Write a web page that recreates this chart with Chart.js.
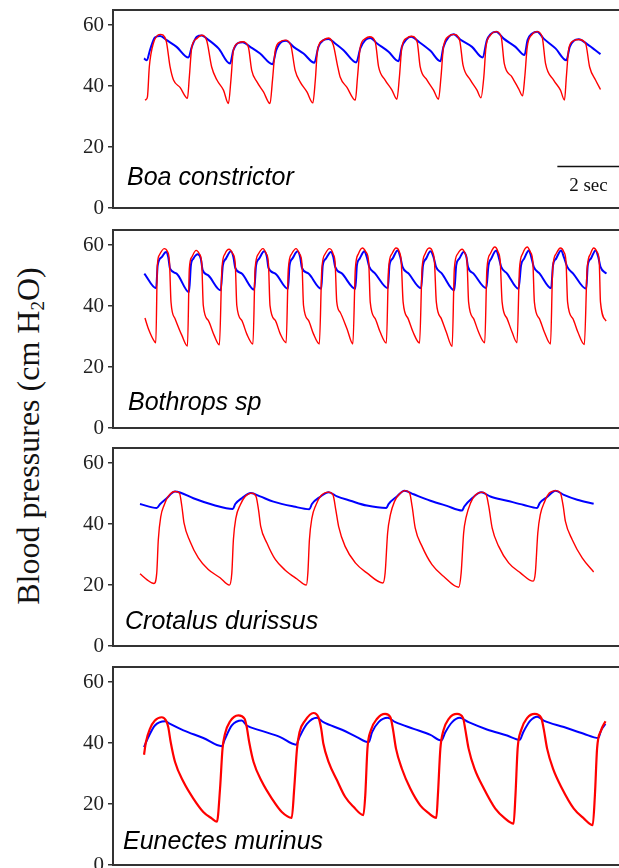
<!DOCTYPE html>
<html>
<head>
<meta charset="utf-8">
<title>Blood pressures</title>
<script src="https://cdn.jsdelivr.net/npm/chart.js@4.4.0/dist/chart.umd.min.js"></script>
<style>
  html, body { margin: 0; padding: 0; background: #fff; overflow: hidden; width: 619px; height: 868px; }
  .panel { position: absolute; left: 0; }
  #ytitle {
    position: absolute; left: -172px; top: 420px; width: 400px; height: 32px;
    line-height: 32px; text-align: center; white-space: nowrap;
    font-family: "Liberation Serif", "Times New Roman", serif; font-size: 32px; color: #111;
    transform: rotate(-90deg); transform-origin: 50% 50%;
  }
  #ytitle sub { font-size: 0.6em; line-height: 0; vertical-align: -0.25em; }
</style>
</head>
<body>
<div id="ytitle">Blood pressures (cm H<sub>2</sub>O)</div>
<canvas id="boa" class="panel" width="625" height="226" style="top:-4px"></canvas>
<canvas id="bothrops" class="panel" width="625" height="226" style="top:216px"></canvas>
<canvas id="crotalus" class="panel" width="625" height="226" style="top:434px"></canvas>
<canvas id="eunectes" class="panel" width="625" height="226" style="top:653px"></canvas>
<script>
// ===================== DATA (time in s, pressure in cm H2O) =====================
const yTicks = [0, 20, 40, 60];
const species = ["Boa constrictor", "Bothrops sp", "Crotalus durissus", "Eunectes murinus"];
const scaleBarSec = 2;

const boaRed = [[1.03,35.4],[1.06,35.6],[1.11,36.5],[1.17,46.3],[1.30,54],[1.52,57],[1.71,55],[1.84,46.3],[1.95,42],[2.16,39.6],[2.40,36],
  [2.46,43],[2.54,52.9],[2.70,55.6],[2.86,56.7],[3.02,55],[3.18,46.3],[3.35,42],[3.56,38.7],[3.72,34.3],
  [3.80,42],[3.88,51.8],[4.04,54.2],[4.18,54.6],[4.36,52.9],[4.47,45.2],[4.64,41.4],[4.85,38.1],[5.06,34.3],
  [5.14,42],[5.23,51.8],[5.39,54.6],[5.55,55.1],[5.73,53.4],[5.87,45.2],[6.03,41.4],[6.25,38.1],[6.44,34.5],
  [6.52,42],[6.59,51.8],[6.78,55.1],[6.95,55.8],[7.10,53.5],[7.23,47],[7.32,43],[7.54,39.6],[7.81,35.4],
  [7.88,43],[7.97,52.9],[8.13,55.6],[8.27,56.2],[8.45,54.6],[8.56,46.3],[8.77,42],[8.99,38.7],[9.15,35.7],
  [9.23,43],[9.31,52.9],[9.47,55.8],[9.61,56.4],[9.80,54.6],[9.90,46.3],[10.12,42],[10.33,38.7],[10.49,35.7],
  [10.57,43],[10.65,52.9],[10.82,56.4],[10.98,57],[11.17,55.1],[11.28,46.9],[11.52,42],[11.73,38.7],[11.86,36.2],
  [11.95,43],[12.02,52.9],[12.16,56.7],[12.35,57.9],[12.51,56.2],[12.61,47.4],[12.86,43],[13.07,39.2],[13.20,36.8],
  [13.27,43],[13.35,52.9],[13.51,57],[13.67,57.9],[13.83,56.2],[13.94,47.4],[14.20,42],[14.42,38.7],[14.55,35.4],
  [14.61,43],[14.69,52.4],[14.85,54.9],[15.01,55.3],[15.23,54],[15.36,46.3],[15.55,42],[15.71,38.9]];
const boaBlue = [[1.00,49.1],[1.09,48.5],[1.19,51.8],[1.35,56],[1.52,56.5],[1.73,55.1],[2.05,52.9],[2.43,49.4],
  [2.54,52.9],[2.70,56.2],[2.86,56.6],[3.02,55.6],[3.40,52.4],[3.77,47.4],
  [3.88,51.8],[4.04,54.2],[4.18,54.4],[4.42,52.9],[4.74,50.7],[5.14,47.2],
  [5.26,51.8],[5.44,54.6],[5.58,54.9],[5.82,52.9],[6.14,50.7],[6.49,47.7],
  [6.62,52.9],[6.78,55.1],[6.95,55.5],[7.16,54],[7.43,51.8],[7.84,47.8],
  [7.97,52.4],[8.13,55.1],[8.29,55.8],[8.51,54],[8.88,51.3],[9.20,48.2],
  [9.31,52.9],[9.45,55.3],[9.61,56.2],[9.85,54.6],[10.23,51.6],[10.55,48.2],
  [10.65,52.9],[10.82,56.2],[10.98,57],[11.19,55.3],[11.57,52.9],[11.91,49.4],
  [12.05,55.1],[12.16,57],[12.35,57.9],[12.59,55.6],[12.97,52.9],[13.26,50.2],
  [13.36,55.1],[13.51,57.3],[13.67,57.9],[13.88,55.6],[14.26,52.4],[14.61,48.5],
  [14.72,52.9],[14.85,54.9],[15.01,55.4],[15.28,53.8],[15.71,50.5]];

const bothropsRed = [[1.03,36.1],[1.14,32.6],[1.35,28.2],[1.38,28],
  [1.43,53.4],[1.49,56.7],[1.65,58.9],[1.75,58],[1.82,54.5],[1.87,41.3],[2.00,35.9],[2.22,30.4],[2.40,26.9],
  [2.46,52.3],[2.54,56.1],[2.68,58.3],[2.78,57.2],[2.86,53.9],[2.91,40.2],[3.07,35.3],[3.26,30.4],[3.43,27.3],
  [3.51,52.3],[3.61,57.2],[3.74,58.7],[3.86,57.2],[3.94,53.9],[3.99,40.2],[4.15,35.3],[4.31,30.9],[4.51,27.6],
  [4.58,52.3],[4.69,57.2],[4.83,58.9],[4.94,57.2],[5.01,53.9],[5.06,40.2],[5.23,35.3],[5.39,30.9],[5.58,28],
  [5.65,52.3],[5.76,57.2],[5.90,58.9],[6.01,57.2],[6.09,53.9],[6.14,40.2],[6.30,35.3],[6.46,30.9],[6.65,27.6],
  [6.73,52.3],[6.84,57.2],[6.98,58.9],[7.10,57],[7.16,53.9],[7.21,41.5],[7.32,38],[7.54,32.6],[7.73,27.6],
  [7.81,52.3],[7.91,57.2],[8.04,59.1],[8.15,57.8],[8.24,54.5],[8.29,41.3],[8.45,35.9],[8.61,31.5],[8.81,27.9],
  [8.88,52.3],[8.99,57.2],[9.12,59.1],[9.23,57.8],[9.29,54.5],[9.35,41.3],[9.51,35.9],[9.67,31.5],[9.88,27.9],
  [9.96,52.3],[10.06,57.2],[10.19,59.1],[10.30,57.8],[10.36,54.5],[10.42,41.3],[10.58,35.9],[10.74,31.5],[10.93,26.8],
  [11.00,52.3],[11.11,57.2],[11.25,58.7],[11.35,57.2],[11.41,54.5],[11.46,41.3],[11.62,35.9],[11.78,31.5],[11.98,28],
  [12.05,52.3],[12.16,57.2],[12.30,59.4],[12.41,57.8],[12.48,54.5],[12.54,41.3],[12.70,35.9],[12.86,31.5],[13.02,28],
  [13.10,52.3],[13.20,57.2],[13.35,59.4],[13.45,57.8],[13.53,54.5],[13.58,41.3],[13.74,35.9],[13.90,31.5],[14.10,27.6],
  [14.17,52.3],[14.28,57.2],[14.42,59.1],[14.53,57.8],[14.60,54.5],[14.65,41.3],[14.82,35.9],[14.98,31.5],[15.19,27.4],
  [15.28,52.3],[15.39,57.2],[15.49,59.1],[15.60,57.8],[15.67,54.5],[15.71,41.3],[15.89,35.1]];
const bothropsBlue = [[1.01,50.7],[1.39,45.9],[1.44,53.4],[1.57,56.1],[1.71,57.8],[1.78,56.1],[1.84,52.3],[2.05,50.7],[2.45,44.6],
  [2.51,53.4],[2.59,55.6],[2.73,57],[2.83,55.6],[2.89,51.8],[3.07,50.1],[3.47,45.2],
  [3.54,53.4],[3.64,55.6],[3.80,58],[3.88,56.1],[3.94,52.6],[4.15,50.7],[4.55,45.4],
  [4.61,53.4],[4.71,55.6],[4.87,58],[4.96,56.1],[5.01,52.6],[5.23,50.7],[5.64,45.7],
  [5.69,53.4],[5.78,55.6],[5.95,58],[6.03,56.1],[6.09,52.6],[6.30,50.7],[6.71,45.7],
  [6.76,53.4],[6.86,55.6],[7.02,57.8],[7.10,56.1],[7.16,52.9],[7.38,50.7],[7.81,45.7],
  [7.86,53.4],[7.95,55.6],[8.10,58],[8.18,56.1],[8.26,52.9],[8.45,50.7],[8.86,45.9],
  [8.91,53.4],[9.01,55.6],[9.17,58.3],[9.26,56.1],[9.33,52.9],[9.53,50.7],[9.93,45.9],
  [9.99,53.4],[10.09,55.6],[10.23,58],[10.33,56.1],[10.41,52.9],[10.60,50.7],[11.00,45.2],
  [11.06,53.4],[11.16,55.6],[11.30,57.8],[11.39,56.1],[11.44,52.9],[11.62,50.7],[12.03,45.9],
  [12.10,53.4],[12.19,55.6],[12.35,58.3],[12.43,56.1],[12.51,52.9],[12.70,50.7],[13.07,45.7],
  [13.15,53.4],[13.25,55.6],[13.40,58.3],[13.48,56.1],[13.56,52.9],[13.75,50.7],[14.12,45.9],
  [14.18,53.4],[14.28,55.6],[14.44,58.3],[14.53,56.1],[14.64,52.9],[14.83,50.7],[15.25,45.7],
  [15.30,53.4],[15.40,55.6],[15.55,58.3],[15.64,56.1],[15.71,52.9],[15.90,50.7]];

const crotalusRed = [[0.87,23.7],[1.09,21.8],[1.32,20.5],[1.41,24],[1.46,34.9],[1.54,42.5],[1.65,46.3],[1.78,49.1],[2.00,50.7],[2.14,50.2],[2.22,45.8],[2.29,40.3],[2.48,34.4],[2.75,28.9],[3.07,25.1],[3.45,22.4],[3.75,20],
  [3.83,24],[3.88,34.9],[3.96,42],[4.10,46.3],[4.26,49.1],[4.47,50.2],[4.61,49.1],[4.69,44.7],[4.76,39.3],[4.96,33.8],[5.23,28.4],[5.55,24.9],[5.93,22],[6.23,20],
  [6.28,24],[6.33,34.9],[6.41,42],[6.54,46.3],[6.70,49.3],[6.95,50.5],[7.09,49.6],[7.18,44.7],[7.27,39.3],[7.48,32.7],[7.81,27.3],[8.18,24],[8.70,20.7],
  [8.77,24],[8.85,37.1],[8.94,43.1],[9.07,47.4],[9.23,49.9],[9.42,51],[9.56,50.2],[9.64,45.8],[9.74,38.7],[9.96,32.7],[10.28,26.7],[10.65,22.9],[11.14,19.3],
  [11.22,24],[11.30,37.1],[11.38,42.3],[11.52,46.9],[11.68,49.6],[11.89,50.5],[12.03,49.6],[12.11,45.8],[12.22,38.7],[12.43,32.7],[12.75,27.3],[13.13,24],[13.54,21.3],
  [13.61,24],[13.69,37.1],[13.77,43.1],[13.91,47.4],[14.06,50.2],[14.28,51],[14.42,50.2],[14.51,45.8],[14.58,40.9],[14.80,34.9],[15.12,28.9],[15.49,24.3]];
const crotalusBlue = [[0.87,46.6],[1.41,45.3],[1.52,46.6],[1.73,48.5],[2.00,50.7],[2.16,50.4],[2.59,48.5],[3.24,46.3],[3.86,45],
  [3.94,46.6],[4.15,48.5],[4.44,50.2],[4.74,49.1],[5.17,47.4],[5.82,45.8],[6.33,44.9],
  [6.41,46.6],[6.68,49],[6.95,50.5],[7.22,49.1],[7.65,47.7],[8.18,46.1],[8.81,45.3],
  [8.88,46.6],[9.15,49.1],[9.39,51],[9.69,49.8],[10.23,47.7],[10.76,46],[11.25,44.5],
  [11.32,45.8],[11.57,48.5],[11.86,50.5],[12.16,49.1],[12.70,47.7],[13.24,46.3],[13.67,45.3],
  [13.75,46.9],[13.99,48.9],[14.26,51],[14.53,49.6],[14.96,48],[15.49,46.7]];

const eunectesRed = [[1.00,36.2],[1.06,40.3],[1.19,44.7],[1.35,47.4],[1.57,48.5],[1.71,47.4],[1.78,45.3],[1.86,40.3],[2.00,33.8],[2.27,27.3],[2.59,21.8],[2.91,17.4],[3.18,15.3],[3.35,14.2],
  [3.45,25.1],[3.53,38.2],[3.61,43.1],[3.77,47.1],[4.04,49.1],[4.24,48],[4.31,45.3],[4.39,40.3],[4.53,33.8],[4.80,27.3],[5.12,21.8],[5.44,17.4],[5.76,15.5],
  [5.84,25.1],[5.93,38.2],[6.01,43.6],[6.19,47.4],[6.46,49.9],[6.62,48.5],[6.71,44.7],[6.78,39.8],[6.95,33.8],[7.22,27.8],[7.48,22.4],[7.75,19.1],[8.07,16.4],
  [8.13,22.9],[8.20,38.2],[8.31,44.2],[8.51,48],[8.77,49.6],[8.94,48.5],[9.02,44.7],[9.12,38.2],[9.31,31.6],[9.58,25.1],[9.90,19.6],[10.15,17.2],[10.42,15.5],
  [10.47,22.9],[10.55,38.2],[10.65,44.2],[10.82,48],[11.09,49.6],[11.28,48.3],[11.35,44.7],[11.46,38.2],[11.65,31.6],[11.95,25.1],[12.32,18.5],[12.62,15.4],[12.91,13.6],
  [12.97,22.9],[13.04,38.2],[13.15,44.2],[13.35,48.3],[13.59,49.6],[13.80,48.3],[13.88,44.7],[13.99,38.2],[14.18,31.6],[14.47,25.1],[14.85,18.5],[15.17,15.3],[15.46,13.1],
  [15.53,22.9],[15.60,38.2],[15.73,44.2],[15.87,47.2]];
const eunectesBlue = [[1.00,38.7],[1.14,42],[1.35,45.8],[1.68,47.2],[1.84,46.3],[2.27,44.2],[2.91,41.7],[3.51,39],
  [3.59,40.9],[3.83,45.8],[4.15,47.4],[4.31,45.8],[4.74,44.2],[5.39,42],[5.90,39.5],
  [6.01,42],[6.25,46.3],[6.57,48.3],[6.78,46.9],[7.38,44.4],[7.86,42],[8.24,40.3],
  [8.35,43.6],[8.56,46.9],[8.85,48.3],[9.10,46.9],[9.69,44.7],[10.23,42.7],[10.58,40.9],
  [10.71,43.6],[10.93,46.9],[11.17,48.3],[11.46,46.9],[12.05,44.5],[12.70,42.5],[13.11,41.1],
  [13.22,43.6],[13.45,47.4],[13.67,48.7],[13.88,47.4],[14.53,45.3],[15.17,43.1],[15.64,41.7],
  [15.73,44.2],[15.87,46.3]];

// ===================== PANEL SETUP =====================
const panels = [
  { id: "boa", red: boaRed, blue: boaBlue, redWidth: 1.4, labelDx: 14, labelDy: 23, scaleBar: true },
  { id: "bothrops", red: bothropsRed, blue: bothropsBlue, redWidth: 1.4, labelDx: 15, labelDy: 18 },
  { id: "crotalus", red: crotalusRed, blue: crotalusBlue, redWidth: 1.4, labelDx: 12, labelDy: 17 },
  { id: "eunectes", red: eunectesRed, blue: eunectesBlue, redWidth: 2.2, labelDx: 10, labelDy: 16 }
];

const serif = "'Liberation Serif', 'Times New Roman', serif";

// frame, species name and the 2 sec bar
const framePlugin = {
  id: "frame",
  afterDraw(chart, args, opts) {
    const ctx = chart.ctx;
    const a = chart.chartArea;
    ctx.save();
    ctx.strokeStyle = "#333";
    ctx.lineWidth = 2;
    ctx.strokeRect(a.left, a.top, a.right - a.left, a.bottom - a.top);

    ctx.fillStyle = "#000";
    ctx.font = "italic 25px 'Liberation Sans', Arial, sans-serif";
    ctx.textAlign = "left";
    ctx.textBaseline = "alphabetic";
    ctx.fillText(opts.name, a.left + opts.dx, a.bottom - opts.dy);

    if (opts.scaleBar) {
      const xs = chart.scales.x;
      const ys = chart.scales.y;
      const barEnd = 16.32;
      const x1 = xs.getPixelForValue(barEnd - scaleBarSec);
      const x2 = xs.getPixelForValue(barEnd);
      const yb = Math.round(ys.getPixelForValue(13.8)) + 0.5;
      ctx.strokeStyle = "#111";
      ctx.lineWidth = 1.3;
      ctx.beginPath();
      ctx.moveTo(x1, yb);
      ctx.lineTo(x2, yb);
      ctx.stroke();
      ctx.font = "19px " + serif;
      ctx.textAlign = "center";
      ctx.fillStyle = "#111";
      ctx.fillText(scaleBarSec + " sec", (x1 + x2) / 2, ys.getPixelForValue(5.7));
    }
    ctx.restore();
  }
};

panels.forEach((p, i) => {
  const ctx = document.getElementById(p.id).getContext("2d");
  new Chart(ctx, {
    type: "line",
    data: {
      datasets: [
        { data: p.red, borderColor: "#ff0000", borderWidth: p.redWidth },
        { data: p.blue, borderColor: "#0000ff", borderWidth: 2 }
      ]
    },
    options: {
      responsive: false,
      animation: false,
      events: [],
      layout: { padding: { top: 14, bottom: 14, left: 0, right: 0 } },
      elements: {
        point: { radius: 0 },
        line: { cubicInterpolationMode: "monotone", fill: false }
      },
      plugins: {
        legend: { display: false },
        tooltip: { enabled: false },
        frame: { name: species[i], dx: p.labelDx, dy: p.labelDy, scaleBar: !!p.scaleBar }
      },
      scales: {
        x: { type: "linear", min: 0, max: 16.5, display: false },
        y: {
          min: 0,
          max: 65,
          afterFit: s => {
            s.width = 113;
            s.paddingTop = 0;
            s.paddingBottom = 0;
          },
          afterBuildTicks: s => { s.ticks = yTicks.map(v => ({ value: v })); },
          border: { display: false },
          grid: { drawOnChartArea: false, drawTicks: true, tickLength: 5, color: "#333", lineWidth: 1.5 },
          ticks: { color: "#222", padding: 4, font: { family: serif, size: 21 } }
        }
      }
    },
    plugins: [framePlugin]
  });
});
</script>
</body>
</html>
